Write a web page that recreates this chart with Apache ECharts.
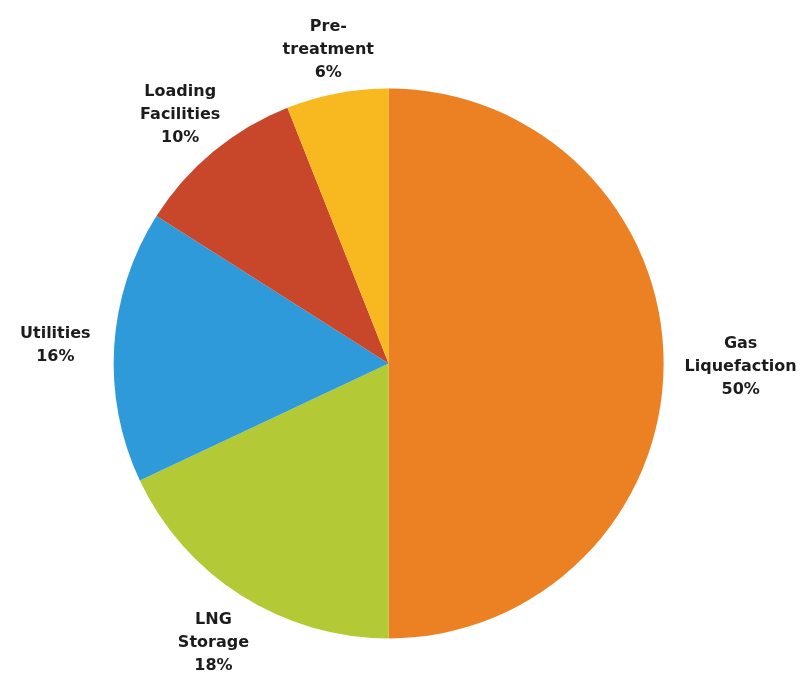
<!DOCTYPE html>
<html>
<head>
<meta charset="utf-8">
<script src="https://cdn.jsdelivr.net/npm/echarts@6/dist/echarts.min.js"></script>
<style>
  html, body { margin: 0; padding: 0; background: #fff; }
  #chart { width: 803px; height: 673px; }
</style>
</head>
<body>
<div id="chart"></div>
<script>
var categories = ['Gas\nLiquefaction', 'LNG\nStorage', 'Utilities', 'Loading\nFacilities', 'Pre-\ntreatment'];
var shares = [50, 18, 16, 10, 6];
var colors = ['#ec8124', '#b3c935', '#2e9ad9', '#c8472a', '#f8b820'];

// how far each label centre sits outside the rim (px)
var labelOffsets = [77, 52, 59, 52, 47];

var chart = echarts.init(document.getElementById('chart'));

var pieData = categories.map(function (name, i) {
    return {
        name: name,
        value: shares[i],
        itemStyle: { color: colors[i] },
        labelLine: { length: labelOffsets[i] }
    };
});

chart.setOption({
    animation: false,
    series: [
        {
            type: 'pie',
            center: ['48.4%', '54%'],
            radius: 275,
            startAngle: 90,
            clockwise: true,
            avoidLabelOverlap: false,
            data: pieData,
            label: {
                show: true,
                position: 'outside',
                formatter: function (p) { return p.name + '\n' + p.value + '%'; },
                fontFamily: 'DejaVu Sans',
                fontWeight: 'bold',
                fontSize: 16,
                lineHeight: 23,
                color: '#1c1c1c'
            },
            labelLine: {
                show: true,
                length2: 0,
                lineStyle: { opacity: 0 }
            },
            labelLayout: function (params) {
                var pts = params.labelLinePoints;
                if (!pts) return {};
                return { x: pts[1][0], y: pts[1][1] + 3, align: 'center', verticalAlign: 'middle' };
            }
        }
    ]
});
</script>
</body>
</html>
